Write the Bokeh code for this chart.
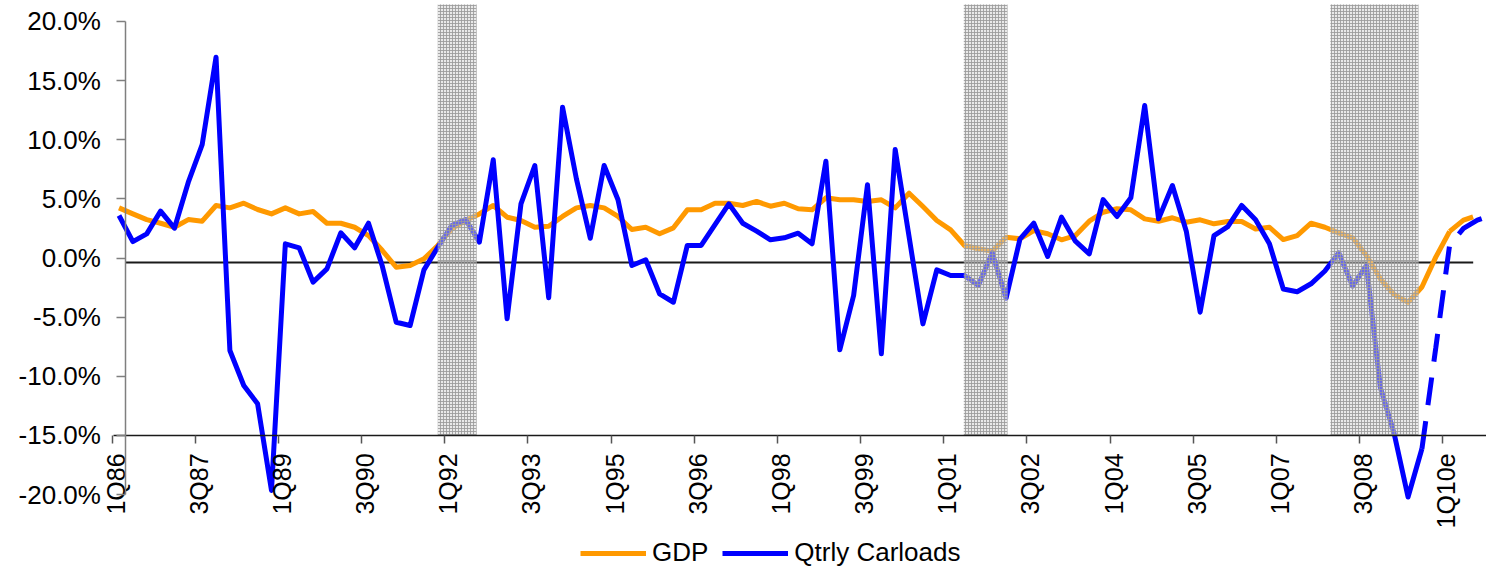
import math
from bokeh.plotting import figure
from bokeh.models import (Range1d, FixedTicker, PrintfTickFormatter, CustomJSTickFormatter,
                          LinearAxis, Legend, LegendItem)
from bokeh.embed import file_html
from bokeh.resources import INLINE

# ---------------- data ----------------
quarters = [f"{q}Q{str(y)[2:]}" for y in range(1986, 2011) for q in range(1, 5)]  # 1Q86 .. 4Q10

gdp_actual = [
    4.24, 3.73, 3.25, 2.94, 2.60, 3.25, 3.11, 4.44, 4.24, 4.63,
    4.10, 3.73, 4.24, 3.73, 3.93, 2.94, 2.94, 2.60, 1.90, 0.63,
    -0.78, -0.63, -0.07, 1.06, 2.47, 3.17, 3.73, 4.44, 3.45, 3.17,
    2.60, 2.69, 3.51, 4.24, 4.44, 4.24, 3.51, 2.41, 2.60, 2.05,
    2.55, 4.07, 4.07, 4.63, 4.63, 4.44, 4.78, 4.38, 4.63, 4.16,
    4.07, 5.09, 4.92, 4.92, 4.78, 4.92, 4.24, 5.48, 4.35, 3.17,
    2.38, 1.06, 0.78, 0.58, 1.76, 1.62, 2.32, 2.05, 1.54, 1.90,
    3.11, 3.87, 4.16, 4.07, 3.31, 3.11, 3.40, 3.03, 3.23, 2.89,
    3.09, 3.09, 2.45, 2.60, 1.56, 1.90, 2.94, 2.60, 2.13, 1.71,
    0.21, -1.76, -3.10, -3.74, -2.45, 0.07, 2.25,
]                                        # 1Q86 .. 1Q10
gdp_estimate = [2.25, 3.20, 3.60, 3.80]  # 1Q10 .. 4Q10 (estimate)

carloads_actual = [
    3.59, 1.39, 2.04, 3.96, 2.52, 6.41, 9.59, 16.98, -7.82, -10.78,
    -12.33, -19.65, 1.20, 0.86, -2.04, -0.92, 2.13, 0.86, 2.94, -0.70,
    -5.43, -5.71, -1.00, 0.91, 2.75, 3.25, 1.34, 8.30, -5.14, 4.58,
    7.82, -3.36, 12.75, 6.69, 1.67, 7.82, 4.92, -0.63, -0.15, -3.03,
    -3.74, 1.06, 1.06, 2.83, 4.58, 2.94, 2.27, 1.54, 1.71, 2.10,
    1.20, 8.18, -7.76, -3.17, 6.19, -8.10, 9.17, 1.80, -5.57, -1.00,
    -1.48, -1.48, -2.32, 0.44, -3.40, 1.60, 2.94, 0.13, 3.45, 1.42,
    0.35, 4.94, 3.51, 5.09, 12.89, 3.31, 6.13, 2.27, -4.58, 1.90,
    2.66, 4.44, 3.23, 1.20, -2.62, -2.85, -2.18, -1.10, 0.44, -2.38,
    -0.63, -10.92, -14.86, -20.20, -16.13,
]                                                      # 1Q86 .. 3Q09
carloads_estimate = [-16.13, -7.60, 1.10, 2.50, 3.20, 3.60]  # 3Q09 .. 4Q10 (estimate)

tick_labels = ["1Q86", "3Q87", "1Q89", "3Q90", "1Q92", "3Q93", "1Q95", "3Q96", "1Q98",
               "3Q99", "1Q01", "3Q02", "1Q04", "3Q05", "1Q07", "3Q08", "1Q10e"]
tick_step = 6  # quarters between labels

recession_start = [23.0, 60.95, 87.4]   # in quarter index units
recession_end = [25.8, 64.1, 93.75]
shade_top, shade_bottom = 21.43, -15.0

ref_level = -0.37          # horizontal reference line (%)
ref_from, ref_to = 0.5, 97.7

y_ticks = [-20, -15, -10, -5, 0, 5, 10, 15, 20]

# ---------------- figure ----------------
FONT = "Liberation Sans"
n_g = len(gdp_actual)
n_c = len(carloads_actual)
X0, X1 = -8.55, 98.66

p = figure(width=1486, height=568, output_backend="svg", toolbar_location=None,
           x_range=Range1d(X0, X1), y_range=Range1d(-26.25, 21.77),
           min_border_left=0, min_border_right=0, min_border_top=0, min_border_bottom=0,
           title=None, background_fill_color="white", border_fill_color="white")
p.outline_line_color = None
p.xgrid.visible = False
p.ygrid.visible = False

# reference line
p.line([ref_from, ref_to], [ref_level, ref_level], line_color="#1a1a1a", line_width=2)

# series
BLUE = "#0000FF"
ORANGE = "#FF9900"
LW = 5
g_solid = p.line(list(range(n_g)), gdp_actual, line_color=ORANGE, line_width=LW, line_join="round")
p.line(list(range(n_g - 1, n_g - 1 + len(gdp_estimate))), gdp_estimate, line_color=ORANGE,
       line_width=LW, line_dash="28 16")
c_solid = p.line(list(range(n_c)), carloads_actual, line_color=BLUE, line_width=LW, line_join="round")
p.line(list(range(n_c - 1, n_c - 1 + len(carloads_estimate))), carloads_estimate, line_color=BLUE,
       line_width=LW, line_dash="28 16")

# recession shading drawn over the lines (mesh pattern)
p.quad(left=recession_start, right=recession_end, bottom=shade_bottom, top=shade_top,
       fill_color="#d4d4d4", fill_alpha=0.5, line_color=None,
       hatch_pattern="+", hatch_scale=3, hatch_color="#9a9a9a", hatch_weight=1, hatch_alpha=0.85)

# y axis at a fixed x position
ya = p.yaxis[0]
ya.fixed_location = 0.5
ya.bounds = (-20, 20)
ya.ticker = FixedTicker(ticks=y_ticks)
ya.formatter = PrintfTickFormatter(format="%.1f%%")
ya.major_tick_out = 9
ya.major_tick_in = 0
ya.minor_tick_out = 0
ya.minor_tick_in = 0
ya.axis_line_color = "#7f7f7f"
ya.axis_line_width = 1.5
ya.major_tick_line_color = "#7f7f7f"
ya.major_tick_line_width = 1.5
ya.major_label_standoff = 16
ya.major_label_text_font = FONT
ya.major_label_text_font_size = "26px"
ya.major_label_text_color = "black"

# x axis (ticks only) at -15%
xa = p.xaxis[0]
xa.fixed_location = -15
xa.bounds = (-0.42, X1)
xa.ticker = FixedTicker(ticks=[k * tick_step - 0.5 for k in range(len(tick_labels))])
xa.formatter = CustomJSTickFormatter(code="return '';")
xa.major_tick_out = 8
xa.major_tick_in = 0
xa.minor_tick_out = 0
xa.minor_tick_in = 0
xa.axis_line_color = "#1a1a1a"
xa.axis_line_width = 1.5
xa.major_tick_line_color = "#555555"
xa.major_tick_line_width = 1.5

# x labels (vertical, reading upwards) centred on quarters
xl = LinearAxis(fixed_location=-15,
                ticker=FixedTicker(ticks=[k * tick_step - 0.25 for k in range(len(tick_labels))]),
                formatter=CustomJSTickFormatter(args=dict(names=tick_labels, step=tick_step), code="""
                    const k = Math.round((tick + 0.25) / step);
                    return (k >= 0 && k < names.length) ? names[k] : '';
                """))
xl.axis_line_color = None
xl.major_tick_line_color = None
xl.minor_tick_line_color = None
xl.major_tick_out = 0
xl.major_label_standoff = 18
xl.major_label_orientation = math.pi / 2
xl.major_label_text_font = FONT
xl.major_label_text_font_size = "25px"
xl.major_label_text_color = "black"
p.add_layout(xl, "below")

legend = Legend(items=[LegendItem(label="GDP", renderers=[g_solid]),
                       LegendItem(label="Qtrly Carloads", renderers=[c_solid])],
                location=(580, 0), orientation="horizontal",
                glyph_width=66, glyph_height=28, label_height=28, label_standoff=6, spacing=14,
                padding=0, margin=0, border_line_color=None, background_fill_alpha=0,
                label_text_font=FONT, label_text_font_size="26px", label_text_color="black")
p.add_layout(legend)

open("out.html", "w").write(file_html(p, INLINE))
